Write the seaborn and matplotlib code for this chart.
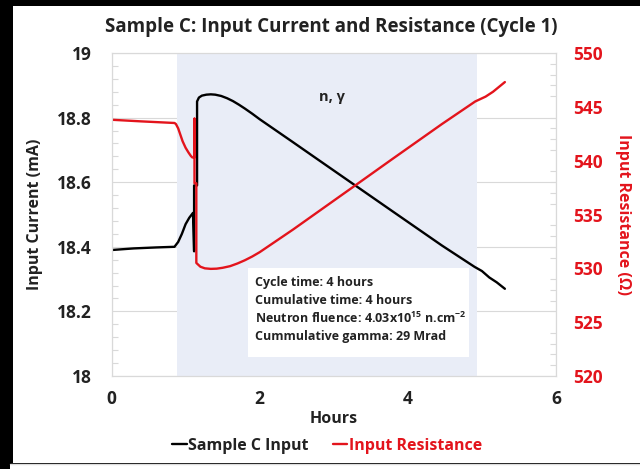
import matplotlib
matplotlib.use("Agg")
import matplotlib.pyplot as plt
from matplotlib.patches import Rectangle
from matplotlib.lines import Line2D
from matplotlib.ticker import MultipleLocator
import seaborn as sns
import pandas as pd

# ---------------- data ----------------
hours_current = [0.0, 0.3, 0.6, 0.85, 0.9, 0.95, 1.0, 1.05, 1.10, 1.115, 1.115, 1.155, 1.155,
                 1.18, 1.22, 1.28, 1.34, 1.40, 1.48, 1.56, 1.64, 1.72, 1.80, 1.90, 2.0,
                 2.43, 2.8, 3.29, 3.78, 4.46, 4.9, 5.0, 5.1, 5.2, 5.31]
current_ma = [18.39, 18.395, 18.398, 18.40, 18.415, 18.44, 18.47, 18.49, 18.505, 18.386, 18.59, 18.59, 18.85,
              18.862, 18.868, 18.871, 18.872, 18.871, 18.867, 18.860, 18.851, 18.840, 18.828, 18.812, 18.795,
              18.727, 18.668, 18.59, 18.512, 18.404, 18.338, 18.325, 18.305, 18.29, 18.27]

hours_resist = [0.0, 0.4, 0.85, 0.87, 0.9, 0.93, 0.96, 1.0, 1.04, 1.07, 1.09, 1.12, 1.12, 1.12, 1.145, 1.145,
                1.2, 1.26, 1.34, 1.42, 1.5, 1.6, 1.7, 1.8, 1.9, 2.0, 2.15, 2.3, 2.45,
                3.29, 3.78, 4.46, 4.91, 5.05, 5.15, 5.31]
resist_ohm = [543.8, 543.65, 543.5, 543.4, 543.0, 542.4, 541.8, 541.2, 540.75, 540.45, 540.3, 540.3, 543.9, 537.9,
              537.9, 530.5,
              530.15, 530.0, 529.95, 529.97, 530.05, 530.2, 530.45, 530.75, 531.1, 531.5, 532.2, 532.9, 533.6,
              537.7, 540.1, 543.4, 545.5, 545.95, 546.4, 547.3]

exposure_window = [0.88, 4.93]
current_ticks = [18.0, 18.2, 18.4, 18.6, 18.8, 19.0]
current_tick_labels = ["18", "18.2", "18.4", "18.6", "18.8", "19"]
resist_ticks = [520, 525, 530, 535, 540, 545, 550]
hour_ticks = [0, 2, 4, 6]

title = "Sample C: Input Current and Resistance (Cycle 1)"
info_lines = ["Cycle time: 4 hours",
              "Cumulative time: 4 hours",
              r"Neutron fluence: 4.03x10$^{15}$ n.cm$^{-2}$",
              "Cummulative gamma: 29 Mrad"]

RED = "#E3141C"
GRID = "#D9D9D9"
SHADE = "#E9EDF7"
FONT = "Open Sans"

sns.set_style("white")
plt.rcParams["font.family"] = [FONT, "DejaVu Sans"]
plt.rcParams["font.weight"] = "bold"
plt.rcParams["mathtext.fontset"] = "custom"
plt.rcParams["mathtext.rm"] = f"{FONT}:bold"
plt.rcParams["mathtext.it"] = f"{FONT}:bold"
plt.rcParams["mathtext.bf"] = f"{FONT}:bold"

df_c = pd.DataFrame({"Hours": hours_current, "Current": current_ma})
df_r = pd.DataFrame({"Hours": hours_resist, "Resistance": resist_ohm})

W, H = 640, 469
fig = plt.figure(figsize=(W / 100, H / 100), dpi=100)
fig.patch.set_facecolor("black")
fig.add_artist(Rectangle((13 / W, 1 - 463 / H), (W - 13) / W, (463 - 6) / H,
                         transform=fig.transFigure, facecolor="white", edgecolor="none", zorder=-10))
fig.add_artist(Rectangle((10 / W, 0), (W - 10) / W, 5 / H,
                         transform=fig.transFigure, facecolor="white", edgecolor="none", zorder=-10))
fig.add_artist(Line2D([10 / W, 1], [5 / H, 5 / H], transform=fig.transFigure, color="#DDDDDD", lw=1))

ax = fig.add_axes([111.5 / W, 1 - 376 / H, (556 - 111.5) / W, (376 - 53) / H])
ax.set_facecolor("white")
ax.axvspan(exposure_window[0], exposure_window[1], color=SHADE, zorder=1, lw=0)

sns.lineplot(data=df_c, x="Hours", y="Current", ax=ax, color="black", lw=1.7,
             sort=False, estimator=None, zorder=2.5)
ax.set_xlim(0, 6)
ax.set_ylim(18, 19)
ax.set_xticks(hour_ticks)
ax.set_yticks(current_ticks)
ax.set_yticklabels(current_tick_labels)
ax.yaxis.set_minor_locator(MultipleLocator(0.04))
ax.grid(True, which="major", color=GRID, lw=0.8)
ax.tick_params(axis="both", which="major", length=0, labelsize=12.5, colors="#222222")
ax.tick_params(axis="y", which="major", pad=14)
ax.tick_params(axis="x", which="major", pad=10)
ax.tick_params(axis="y", which="minor", direction="in", length=4, color=GRID, width=0.8, left=True)
for lab in ax.get_xticklabels() + ax.get_yticklabels():
    lab.set_fontweight("bold")
for s in ax.spines.values():
    s.set_color(GRID)
    s.set_linewidth(0.8)
ax.set_xlabel("Hours", fontsize=11.5, fontweight="bold", labelpad=2, color="#222222")
ax.set_ylabel("Input Current (mA)", fontsize=11.5, fontweight="bold", labelpad=10, color="#222222")

ax2 = ax.twinx()
sns.lineplot(data=df_r, x="Hours", y="Resistance", ax=ax2, color=RED, lw=1.7,
             sort=False, estimator=None)
ax2.set_ylim(520, 550)
ax2.set_yticks(resist_ticks)
ax2.yaxis.set_minor_locator(MultipleLocator(1))
ax2.tick_params(axis="y", which="major", length=0, labelsize=12.5, labelcolor=RED, pad=12)
ax2.tick_params(axis="y", which="minor", direction="in", length=4, color=GRID, width=0.8, right=True)
for lab in ax2.get_yticklabels():
    lab.set_fontweight("bold")
for s in ax2.spines.values():
    s.set_color(GRID)
    s.set_linewidth(0.8)
ax2.set_ylabel("Input Resistance (\u03a9)", fontsize=11.5, fontweight="bold", color=RED,
               rotation=270, labelpad=21, family=[FONT, "DejaVu Sans"])
ax2.set_xlabel("")

# info box
ax.add_patch(Rectangle((1.84, 18.059), 4.82 - 1.84, 18.334 - 18.059, facecolor="white",
                       edgecolor="none", zorder=3))
for i, line in enumerate(info_lines):
    ax.text(1.94, 18.29 - i * 0.056, line, fontsize=9.0, fontweight="bold", va="center",
            ha="left", zorder=4, color="#222222")
ax.text(2.97, 18.865, "n, \u03b3", fontsize=10.5, fontweight="bold", ha="center", va="center",
        zorder=4, family=[FONT, "DejaVu Sans"], color="#222222")

fig.text(331 / W, 1 - 27 / H, title, fontsize=13.5, fontweight="bold", ha="center", va="center",
         color="#222222")

handles = [Line2D([], [], color="black", lw=1.7), Line2D([], [], color=RED, lw=1.7)]
leg = fig.legend(handles, ["Sample C Input", "Input Resistance"], loc="center",
                 bbox_to_anchor=(327 / W, 1 - 446 / H), ncol=2, frameon=False,
                 handlelength=0.9, handletextpad=0.1, columnspacing=1.5,
                 prop={"size": 11.5, "weight": "bold"})
for t, c in zip(leg.get_texts(), ["#222222", RED]):
    t.set_color(c)

fig.savefig("out.png", dpi=100, facecolor=fig.get_facecolor())
